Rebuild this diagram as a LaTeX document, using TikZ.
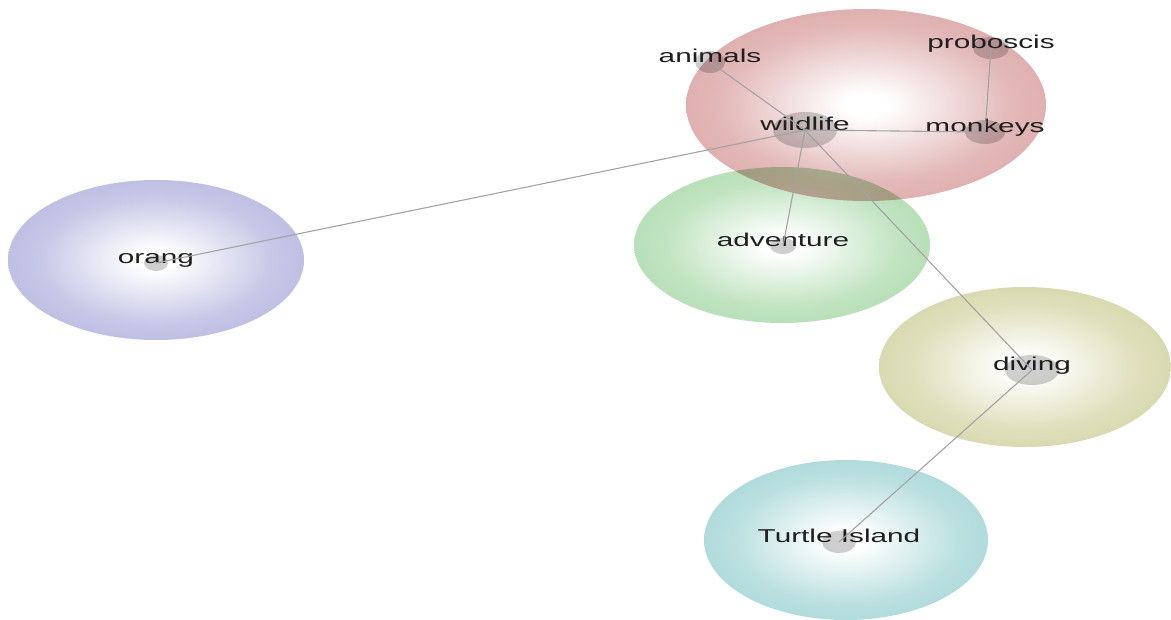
\documentclass[tikz,border=0pt]{standalone}
\usepackage{fontspec}
\setmainfont{Liberation Sans}
\usetikzlibrary{shapes.geometric}

\definecolor{bubblered}{RGB}{210,142,142}
\definecolor{bubbleblue}{RGB}{164,164,216}
\definecolor{bubblegreen}{RGB}{154,210,154}
\definecolor{bubbleolive}{RGB}{202,202,144}
\definecolor{bubblecyan}{RGB}{144,204,204}
\colorlet{bubbleedge}{white}

% white core fading out to the cluster colour at the rim
\pgfdeclareradialshading[bubbleedge]{bubble}{\pgfpoint{0bp}{0bp}}{color(0bp)=(white); color(3bp)=(white); color(20bp)=(bubbleedge!62!white); color(40bp)=(bubbleedge!94!white); color(50bp)=(bubbleedge)}

\newcommand\wide[1]{\scalebox{1.6}[1]{#1}}

\begin{document}
\begin{tikzpicture}[x=1pt, y=-1pt,
  bubble/.style={/utils/exec={\colorlet{bubbleedge}{#1}}, shading=bubble, blend mode=multiply},
  term/.style={ellipse, fill=black!19, blend mode=multiply, inner sep=0pt},
  word/.style={font=\fontsize{18.6}{20}\selectfont, text=black!88, text height=13pt, text depth=0pt, inner sep=0pt},
  link/.style={black!36, line width=1.1pt}]

\useasboundingbox (0,0) rectangle (1171,619);

% clusters
\shade [bubble=bubbleblue] (156,260) ellipse [x radius=148, y radius=80];
\shade [bubble=bubblegreen] (782,245) ellipse [x radius=148, y radius=78];
\shade [bubble=bubblered] (866,105) ellipse [x radius=180, y radius=96];
\shade [bubble=bubbleolive] (1025,367) ellipse [x radius=146, y radius=80];
\shade [bubble=bubblecyan] (846,540) ellipse [x radius=142, y radius=80];

% terms
\foreach \id/\x/\y/\w/\h/\txt in {wildlife/805/130/64/36/wildlife, animals/710/62/30/22/animals,
  proboscis/991/48/36/22/proboscis, monkeys/985/132/40/24/monkeys, orang/156/263/24/16/orang,
  adventure/783/246/26/16/adventure, diving/1032/370/54/30/diving, turtle/839/542/34/22/Turtle Island}
{
  \node [term, minimum width=\w, minimum height=\h] (\id) at (\x,\y) {};
  \node [word] (\id-word) at ([yshift=6.5pt]\id.center) {\wide{\txt}};
}

\foreach \a/\b in {orang/wildlife, animals/wildlife, wildlife/monkeys, monkeys/proboscis,
  wildlife/adventure, wildlife/diving, diving/turtle}
\draw [link] (\a.center) -- (\b.center);
\end{tikzpicture}
\end{document}
